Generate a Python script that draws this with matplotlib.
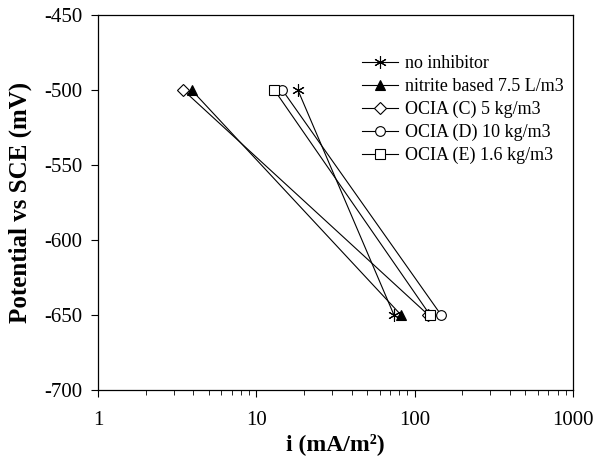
import numpy as np
import matplotlib.pyplot as plt

plt.rcParams['font.family'] = 'Liberation Serif'
plt.rcParams['axes.unicode_minus'] = False

# potentials (mV) and current densities (mA/m2)
potential = [-500, -650]
labels = ['no inhibitor', 'nitrite based 7.5 L/m3', 'OCIA (C) 5 kg/m3',
          'OCIA (D) 10 kg/m3', 'OCIA (E) 1.6 kg/m3']
i_no_inh = [18.3, 74]
i_nitrite = [3.9, 82]
i_ocia_c = [3.45, 122]
i_ocia_d = [14.6, 147]
i_ocia_e = [13.0, 125]

series = [i_no_inh, i_nitrite, i_ocia_c, i_ocia_d, i_ocia_e]
styles = [dict(marker=(6, 2, 0), mfc='k', ms=9),
          dict(marker='^', mfc='k', ms=7.5),
          dict(marker='D', mfc='white', ms=6),
          dict(marker='o', mfc='white', ms=7),
          dict(marker='s', mfc='white', ms=7)]

fig = plt.figure(figsize=(5.95, 4.59), dpi=100)
ax = fig.add_axes([98/595, 1-390/459, 475/595, 375/459])

for vals, lab, st in zip(series, labels, styles):
    ax.plot(vals, potential, color='k', lw=0.8, mec='k', mew=0.8, label=lab, **st)

ax.set_xscale('log')
ax.set_xlim(1, 1000)
ax.set_ylim(-700, -450)
ax.set_yticks(np.arange(-700, -449, 50))
ax.set_xticks([1, 10, 100, 1000])
ax.set_xticklabels(['1', '10', '100', '1000'])
ax.tick_params(axis='both', labelsize=15, direction='out', length=5, width=0.8)
ax.tick_params(axis='y', pad=6)
ax.tick_params(axis='x', pad=10)
ax.tick_params(axis='x', which='minor', length=3.5, width=0.6)
for s in ax.spines.values():
    s.set_linewidth(0.9)

ax.set_xlabel('i (mA/m²)', fontsize=17, fontweight='bold', labelpad=2)
ax.set_ylabel('Potential vs SCE (mV)', fontsize=18, fontweight='bold', labelpad=9)

ax.legend(loc='upper left', bbox_to_anchor=(0.521, 0.936), frameon=False, fontsize=13,
          handlelength=2.0, labelspacing=0.32, handletextpad=0.4)

fig.savefig('out.png', dpi=100)
